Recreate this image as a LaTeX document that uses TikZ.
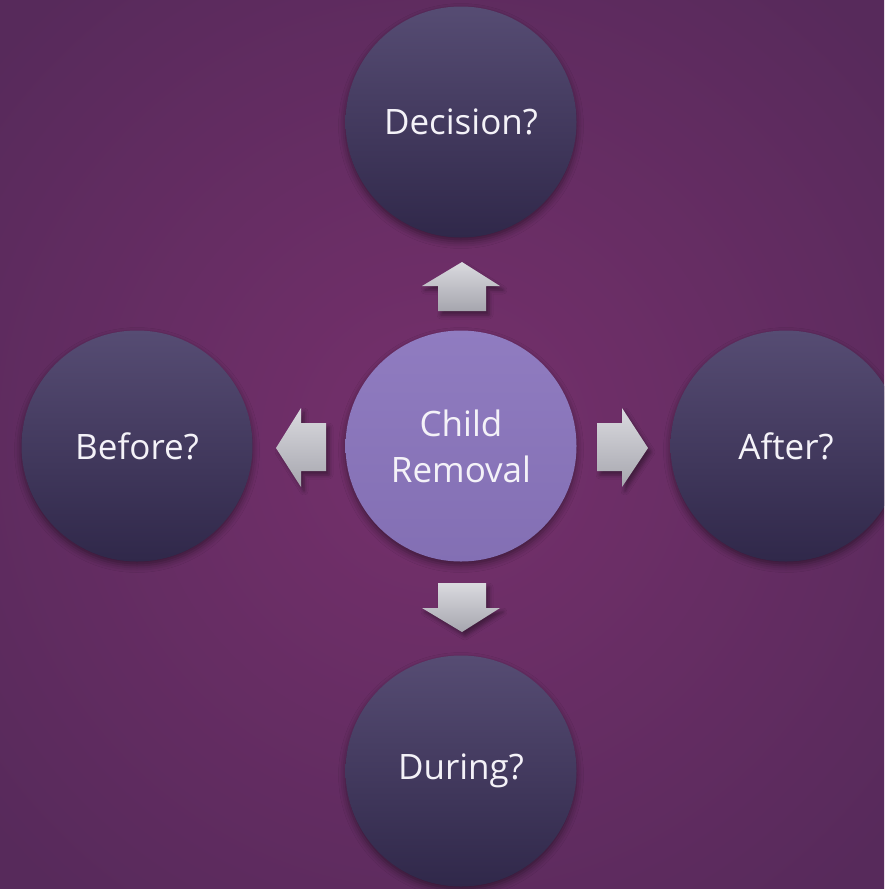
\documentclass[tikz,border=0pt]{standalone}
\usepackage{fontspec}
\setmainfont{Open Sans}
\usetikzlibrary{shadows.blur}
\definecolor{bgin}{HTML}{76306C}
\definecolor{bgout}{HTML}{572A5B}
\definecolor{bubtop}{HTML}{564C73}
\definecolor{bubbot}{HTML}{30284A}
\definecolor{centerfill}{HTML}{8A75BD}
\definecolor{arrtop}{HTML}{DADADF}
\definecolor{arrbot}{HTML}{A6A6AE}
\definecolor{txt}{HTML}{F4F2F8}
\begin{document}
\begin{tikzpicture}[x=1pt,y=-1pt,
  bubble/.style={circle, minimum size=231pt, inner sep=0pt, top color=bubtop, bottom color=bubbot,
    text=txt, font=\fontsize{35}{46}\selectfont, align=center,
    blur shadow={shadow xshift=0pt, shadow yshift=-4pt, shadow blur radius=7pt, shadow opacity=45}},
  hub/.style={bubble, top color=centerfill!95!white, bottom color=centerfill!95!black},
  blockarrow/.style={top color=arrtop, bottom color=arrbot,
    blur shadow={shadow xshift=3pt, shadow yshift=-4pt, shadow blur radius=4pt, shadow opacity=40}}]
\useasboundingbox (0,0) rectangle (884,889);
\clip (0,0) rectangle (884,889);
\shade[inner color=bgin, outer color=bgout] (-150,-150) rectangle (1034,1039);
\node[hub] (center) at (461,446) {Child\\Removal};
\node[bubble] (decision) at (461,122) {Decision?};
\node[bubble] (before) at (137,446) {Before?};
\node[bubble] (after) at (786,446) {After?};
\node[bubble] (during) at (461,771) {During?};
% block arrows
\path[blockarrow] (462,262) -- (500,286) -- (486,286) -- (486,311) -- (438,311) -- (438,286) -- (422,286) -- cycle;
\path[blockarrow] (276,448) -- (301,408) -- (301,423) -- (326,423) -- (326,471) -- (301,471) -- (301,487) -- cycle;
\path[blockarrow] (648,448) -- (622,408) -- (622,423) -- (597,423) -- (597,471) -- (622,471) -- (622,487) -- cycle;
\path[blockarrow] (462,632) -- (500,608) -- (486,608) -- (486,583) -- (438,583) -- (438,608) -- (422,608) -- cycle;
\end{tikzpicture}
\end{document}
